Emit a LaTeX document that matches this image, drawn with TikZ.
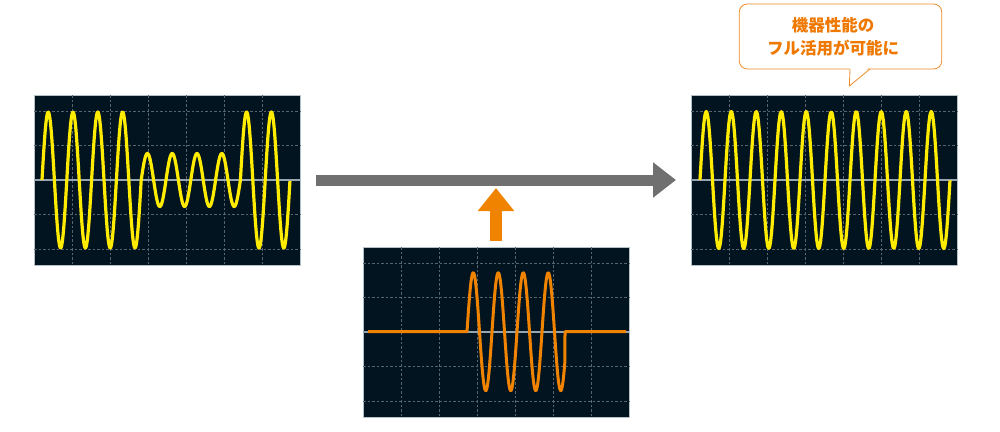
\documentclass[tikz,border=0pt]{standalone}
\usepackage{fontspec}
\usepackage{tikz}
\usetikzlibrary{arrows.meta}
\newfontfamily\jpfont{Noto Sans CJK JP}
\definecolor{screenbg}{RGB}{3,20,33}
\definecolor{gridgray}{RGB}{88,100,110}
\definecolor{zerogray}{RGB}{150,165,175}
\definecolor{waveyellow}{RGB}{255,236,0}
\definecolor{waveorange}{RGB}{240,131,0}
\definecolor{arrowgray}{RGB}{112,112,112}
\definecolor{noteorange}{RGB}{238,120,0}

\begin{document}
\begin{tikzpicture}[x=1pt, y=-1pt,
    screen/.style={draw=zerogray!70!white, line width=0.6pt, fill=screenbg, minimum width=266pt, minimum height=170pt, inner sep=0pt, outer sep=0pt, anchor=north west},
    gridline/.style={gridgray, line width=0.7pt, dash pattern=on 2.5pt off 2pt},
    zeroline/.style={zerogray, line width=1.4pt},
    yellowwave/.style={waveyellow, line width=3.2pt, line join=round, samples=200, smooth},
    orangewave/.style={waveorange, line width=3pt, line join=round, samples=200, smooth},
    grayarrow/.style={arrowgray, line width=11pt, -{Triangle[length=23pt, width=34pt]}, shorten <=16pt, shorten >=15pt},
    uparrow/.style={waveorange, line width=12pt, -{Triangle[length=23pt, width=35pt]}, shorten <=6pt},
    bubbleline/.style={noteorange!85!white, line width=0.8pt}]
    \useasboundingbox (0,0) rectangle (1000,431);

    % Screens
    \node[screen] (leftscr) at (34,95) {};
    \node[screen] (midscr) at (363,247) {};
    \node[screen] (rightscr) at (691,95) {};

    % Grids
    \foreach \sx/\sy in {34/95, 363/247, 691/95} {
        \begin{scope}[shift={(\sx,\sy)}]
            \foreach \gx in {38,76,...,228} \draw[gridline] (\gx,0) -- (\gx,170);
            \foreach \gy in {16,50.5,119.5,154} \draw[gridline] (0,\gy) -- (266,\gy);
            \draw[zeroline] (0,85) -- (266,85);
        \end{scope}
    }

    % Waves
    \draw[yellowwave] plot[domain=0:4] ({42+24.8*\x},{180-68*sin(360*\x)})
        -- plot[domain=4:8] ({42+24.8*\x},{180-26.5*sin(360*\x)})
        -- plot[domain=8:10] ({42+24.8*\x},{180-68*sin(360*\x)});
    \draw[orangewave] (368,331.7) -- plot[domain=0:3.92] ({467+25*\x},{331.7-59*sin(360*\x)})
        -- (565,331.7) -- (626,331.7);
    \draw[yellowwave] plot[domain=0:10] ({700+25*\x},{180-68.5*sin(360*\x)});

    % Arrows
    \draw[grayarrow] (leftscr.east) -- (rightscr.west);
    \coordinate (uptip) at (496,188);
    \draw[uparrow] (midscr.north) -- (uptip);

    % Bubble
    \draw[bubbleline, fill=white, rounded corners=8pt] (739.3,4) rectangle (941.7,69);
    \fill[white] (850,66) -- (849.3,86) -- (870,66) -- cycle;
    \draw[bubbleline, line join=round] (850,69) -- (849.3,86) -- (870,69);
    \node[align=center, text=noteorange, font=\jpfont\bfseries\fontsize{16.5}{23}\selectfont] (note) at (833,36.5) {機器性能の\\フル活用が可能に};
\end{tikzpicture}
\end{document}
